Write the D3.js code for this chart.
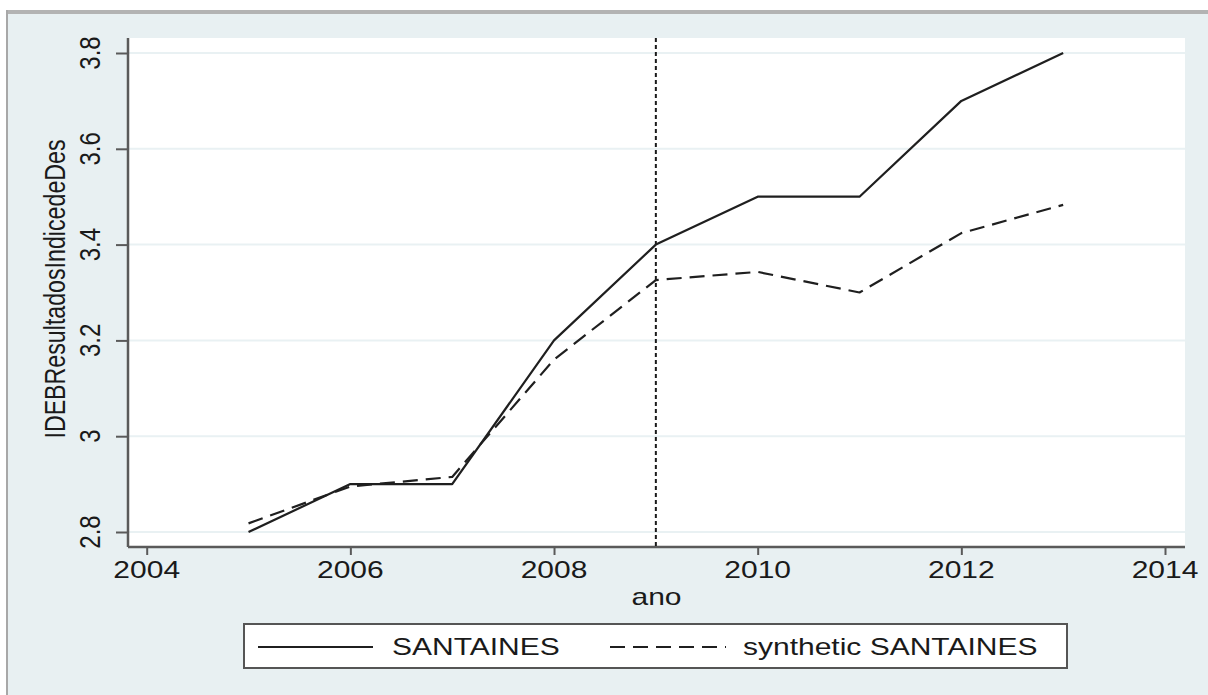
<!DOCTYPE html>
<html>
<head>
<meta charset="utf-8">
<script src="https://cdn.jsdelivr.net/npm/d3@7"></script>
<style>
  html, body { margin: 0; padding: 0; background: #ffffff; }
  svg { display: block; }
  text { font-family: "Liberation Sans", Arial, Helvetica, sans-serif; fill: #1a1a1a; }
</style>
</head>
<body>
<svg id="chart" width="1208" height="695"></svg>
<script>
// IDEB results: observed municipality vs. synthetic control
const years = [2005, 2006, 2007, 2008, 2009, 2010, 2011, 2012, 2013];
const santaines = [2.8, 2.9, 2.9, 3.2, 3.4, 3.5, 3.5, 3.7, 3.8];
const syntheticSantaines = [2.818, 2.895, 2.915, 3.16, 3.326, 3.343, 3.30, 3.424, 3.483];
const xTicks = [2004, 2006, 2008, 2010, 2012, 2014];
const yTicks = [2.8, 3, 3.2, 3.4, 3.6, 3.8];
const treatmentYear = 2009;
const seriesNames = ["SANTAINES", "synthetic SANTAINES"];
const xTitle = "ano";
const yTitle = "IDEBResultadosIndicedeDes";

const svg = d3.select("#chart");
const W = 1208, H = 695;
const stretch = 1.25;            // wide text glyphs
const fontSize = 24;

// page background and frame
svg.append("rect").attr("x", 0).attr("y", 0).attr("width", W).attr("height", H).attr("fill", "#ffffff");
svg.append("rect").attr("x", 7).attr("y", 11).attr("width", W - 7).attr("height", H - 11).attr("fill", "#e8f0f2");
svg.append("rect").attr("x", 6).attr("y", 10).attr("width", W - 6).attr("height", 4).attr("fill", "#b3b3b3");
svg.append("rect").attr("x", 6).attr("y", 10).attr("width", 2).attr("height", H - 10).attr("fill", "#a8a8a8");

// plot region
const plot = { left: 128, right: 1185, top: 38, bottom: 547 };
svg.append("rect")
  .attr("x", plot.left).attr("y", plot.top)
  .attr("width", plot.right - plot.left).attr("height", plot.bottom - plot.top)
  .attr("fill", "#ffffff");

const x = d3.scaleLinear().domain([2004, 2014]).range([146.7, 1165]);
const y = d3.scaleLinear().domain([2.8, 3.8]).range([532, 53]);

// horizontal gridlines
svg.append("g").selectAll("line").data(yTicks).join("line")
  .attr("x1", plot.left).attr("x2", plot.right)
  .attr("y1", d => y(d)).attr("y2", d => y(d))
  .attr("stroke", "#e9f1f3").attr("stroke-width", 2);

// y axis
const yAxis = svg.append("g").attr("transform", `translate(${plot.left},0)`)
  .call(d3.axisLeft(y).tickValues(yTicks).tickSize(12).tickFormat(d3.format("~g")));
yAxis.select(".domain").attr("d", `M0,${plot.top}V${plot.bottom}`).attr("stroke", "#5a5a5a").attr("stroke-width", 2.5);
yAxis.selectAll(".tick line").attr("stroke", "#5a5a5a").attr("stroke-width", 2);
yAxis.selectAll(".tick text").remove();
svg.append("g").selectAll("text").data(yTicks).join("text")
  .attr("transform", d => `translate(100,${y(d)}) scale(${stretch},1) rotate(-90)`)
  .attr("text-anchor", "middle")
  .attr("font-size", fontSize)
  .text(d => d3.format("~g")(d));

// x axis
const xAxis = svg.append("g").attr("transform", `translate(0,${plot.bottom})`)
  .call(d3.axisBottom(x).tickValues(xTicks).tickSize(8).tickFormat(d3.format("d")));
xAxis.select(".domain").attr("d", `M${plot.left},0H${plot.right}`).attr("stroke", "#5a5a5a").attr("stroke-width", 2.5);
xAxis.selectAll(".tick line").attr("stroke", "#5a5a5a").attr("stroke-width", 2);
xAxis.selectAll(".tick text").remove();
svg.append("g").selectAll("text").data(xTicks).join("text")
  .attr("transform", d => `translate(${x(d)},578) scale(${stretch},1)`)
  .attr("text-anchor", "middle")
  .attr("font-size", fontSize)
  .text(d => d3.format("d")(d));

// axis titles
svg.append("text")
  .attr("transform", `translate(${(plot.left + plot.right) / 2},605) scale(${stretch},1)`)
  .attr("text-anchor", "middle").attr("font-size", fontSize).text(xTitle);
svg.append("text")
  .attr("transform", `translate(65,289) scale(${stretch},1) rotate(-90)`)
  .attr("text-anchor", "middle").attr("font-size", 23.2).text(yTitle);

// treatment year marker
svg.append("line")
  .attr("x1", x(treatmentYear)).attr("x2", x(treatmentYear))
  .attr("y1", plot.top).attr("y2", plot.bottom)
  .attr("stroke", "#1a1a1a").attr("stroke-width", 2).attr("stroke-dasharray", "4,3");

// series lines
const line = d3.line().x(d => x(d[0])).y(d => y(d[1]));
const styles = [null, "15,8"];
[santaines, syntheticSantaines].forEach((vals, i) => {
  svg.append("path")
    .datum(years.map((yr, j) => [yr, vals[j]]))
    .attr("d", line)
    .attr("fill", "none")
    .attr("stroke", "#1f1f1f")
    .attr("stroke-width", 2.2)
    .attr("stroke-linejoin", "round")
    .attr("stroke-dasharray", styles[i]);
});

// legend
const legend = svg.append("g");
legend.append("rect")
  .attr("x", 244).attr("y", 624).attr("width", 823).attr("height", 44)
  .attr("fill", "#ffffff").attr("stroke", "#555555").attr("stroke-width", 2);
const legendItems = [
  { x1: 258, x2: 373, tx: 392 },
  { x1: 610, x2: 726, tx: 743 }
];
legendItems.forEach((it, i) => {
  legend.append("line")
    .attr("x1", it.x1).attr("x2", it.x2).attr("y1", 647).attr("y2", 647)
    .attr("stroke", "#1f1f1f").attr("stroke-width", 2.2)
    .attr("stroke-dasharray", styles[i]);
  legend.append("text")
    .attr("transform", `translate(${it.tx},655) scale(${stretch},1)`)
    .attr("font-size", fontSize).text(seriesNames[i]);
});
</script>
</body>
</html>
